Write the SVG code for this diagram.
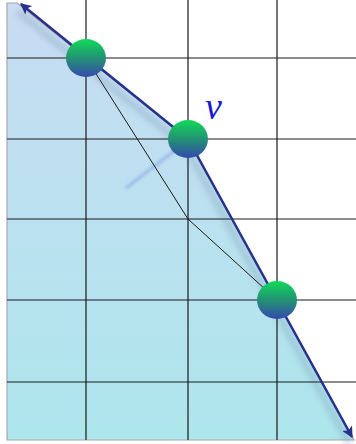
<svg xmlns="http://www.w3.org/2000/svg" width="356" height="444" viewBox="0 0 356 444">
  <defs>
    <linearGradient id="bg" x1="0" y1="0" x2="0" y2="1">
      <stop offset="0" stop-color="#c8dcf3"/>
      <stop offset="1" stop-color="#ade6ec"/>
    </linearGradient>
    <linearGradient id="ball" x1="0" y1="0" x2="0" y2="1">
      <stop offset="0" stop-color="#10da58"/>
      <stop offset="0.5" stop-color="#239274"/>
      <stop offset="1" stop-color="#3549ae"/>
    </linearGradient>
    <filter id="blur" x="-20%" y="-20%" width="140%" height="140%">
      <feGaussianBlur stdDeviation="3"/>
    </filter>
    <filter id="blur2" x="-20%" y="-20%" width="140%" height="140%">
      <feGaussianBlur stdDeviation="1.5"/>
    </filter>
    <marker id="arr" viewBox="0 0 10 10" refX="9" refY="5" markerWidth="4.5" markerHeight="4.5" orient="auto-start-reverse" markerUnits="strokeWidth">
      <path d="M0,0 L10,5 L0,10 L2.5,5 Z" fill="#27308a"/>
    </marker>
    <style>
      .grid { stroke: #1a1a1a; stroke-width: 1.2; fill: none; }
      .thin { stroke: #1a1a1a; stroke-width: 1; fill: none; }
      .bound { stroke: #27308a; stroke-width: 2.5; fill: none; stroke-linejoin: round; }
      .node { fill: url(#ball); }
    </style>
  </defs>

  <rect width="356" height="444" fill="#ffffff"/>

  <!-- shaded region -->
  <polygon points="7,3 17,3 188,139 354,440 7,440" fill="url(#bg)" stroke="#a8a8a8" stroke-width="1.2"/>

  <!-- shadows -->
  <polyline points="18,12 186,147 350,445" fill="none" stroke="#6f8aa8" stroke-width="6" opacity="0.35" filter="url(#blur)"/>
  <line x1="182" y1="145" x2="126" y2="188" stroke="#7a92e0" stroke-width="3" opacity="0.5" filter="url(#blur2)"/>

  <!-- grid -->
  <g id="grid" class="grid">
    <line x1="86" y1="0" x2="86" y2="440"/>
    <line x1="188" y1="0" x2="188" y2="440"/>
    <line x1="277" y1="0" x2="277" y2="440"/>
    <line x1="7" y1="58" x2="356" y2="58"/>
    <line x1="7" y1="139" x2="356" y2="139"/>
    <line x1="7" y1="219" x2="356" y2="219"/>
    <line x1="7" y1="300" x2="356" y2="300"/>
    <line x1="7" y1="382" x2="356" y2="382"/>
  </g>

  <!-- connectors -->
  <g id="connectors">
    <polyline class="thin" points="86,58 188,219 277,300"/>
    <polyline class="bound" points="21,4 188,139 352,437" marker-start="url(#arr)" marker-end="url(#arr)"/>
  </g>

  <g id="node1"><ellipse class="node" cx="86" cy="58" rx="20" ry="19"/></g>
  <g id="node2"><ellipse class="node" cx="188" cy="139" rx="20" ry="19"/></g>
  <g id="node3"><ellipse class="node" cx="277" cy="300" rx="20" ry="19"/></g>

  <g id="label-v">
    <text x="205" y="119" font-family="Liberation Serif, serif" font-style="italic" font-size="38" fill="#1a1ad0">v</text>
  </g>
</svg>
